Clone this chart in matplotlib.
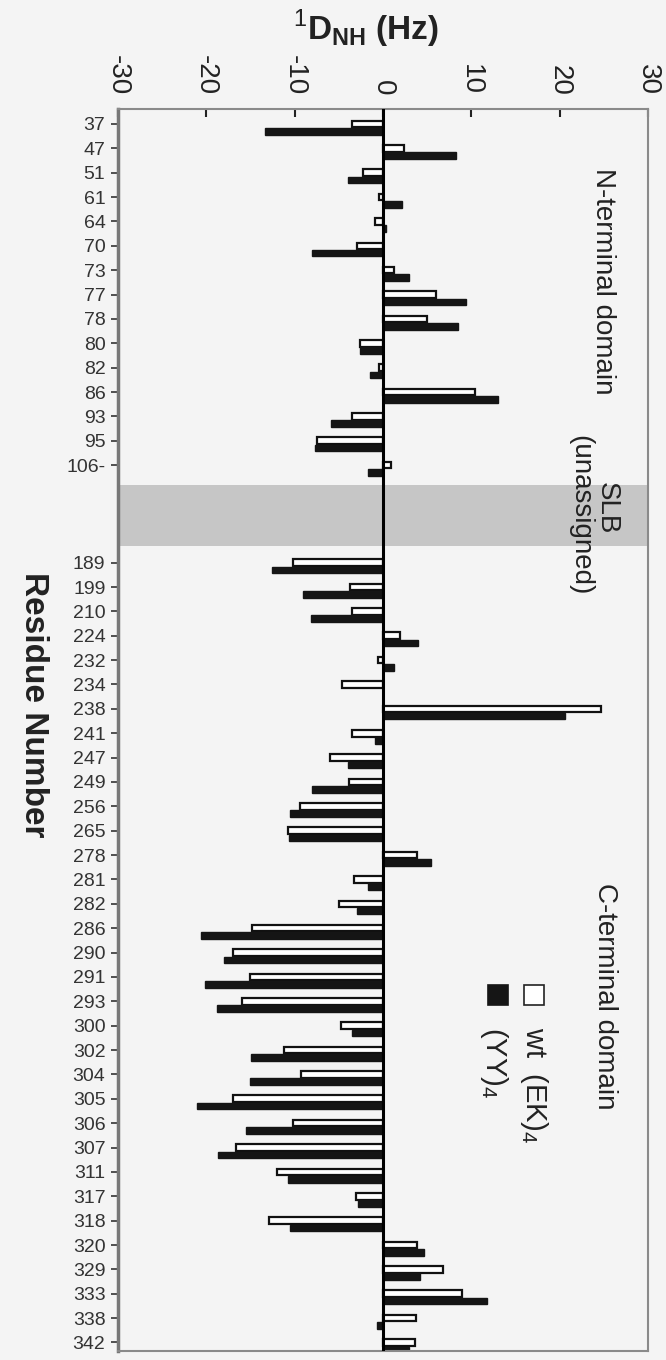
"""
Residual dipolar couplings per residue, wt (EK)4 vs (YY)4.
Chart drawn rotated: values run across the top, residues down the side.
"""
import numpy as np
import matplotlib
matplotlib.use("Agg")
import matplotlib.pyplot as plt
from matplotlib.patches import Rectangle

plt.rcParams['font.family'] = ['Liberation Sans', 'DejaVu Sans']
plt.rcParams['mathtext.fontset'] = 'custom'
plt.rcParams['mathtext.rm'] = 'Liberation Sans'
plt.rcParams['mathtext.bf'] = 'Liberation Sans:bold'

BG = "#f4f4f4"

# N-terminal domain
n_residues = ["37", "47", "51", "61", "64", "70", "73", "77", "78", "80",
              "82", "86", "93", "95", "106-"]
n_wt = [-3.5, 2.4, -2.3, -0.4, -0.9, -2.9, 1.25, 5.95, 5.0, -2.6,
        -0.4, 10.4, -3.5, -7.5, 0.9]
n_yy = [-13.4, 8.3, -4.0, 2.1, 0.3, -8.0, 2.9, 9.35, 8.5, -2.6,
        -1.5, 13.0, -5.9, -7.7, -1.7]

# C-terminal domain
c_residues = ["189", "199", "210", "224", "232", "234", "238", "241", "247", "249",
              "256", "265", "278", "281", "282", "286", "290", "291", "293", "300",
              "302", "304", "305", "306", "307", "311", "317", "318", "320", "329",
              "333", "338", "342"]
c_wt = [-10.2, -3.7, -3.5, 1.9, -0.6, -4.6, 24.65, -3.5, -6.0, -3.85,
        -9.4, -10.7, 3.9, -3.25, -5.0, -14.8, -17.0, -15.0, -16.0, -4.75,
        -11.2, -9.3, -16.95, -10.2, -16.6, -12.0, -3.0, -12.9, 3.8, 6.8,
        8.9, 3.7, 3.6]
c_yy = [-12.6, -9.1, -8.1, 4.0, 1.3, 0.0, 20.65, -0.9, -3.9, -8.0,
        -10.5, -10.6, 5.4, -1.7, -2.9, -20.6, -18.0, -20.1, -18.8, -3.5,
        -14.9, -15.1, -21.0, -15.55, -18.65, -10.7, -2.8, -10.5, 4.7, 4.2,
        11.8, -0.65, 2.9]

GAP_SLOTS = 3  # unassigned SLB region between the two domains

x_ticks = [-30, -20, -10, 0, 10, 20, 30]


def main():
    residues = n_residues + c_residues
    wt = np.array(n_wt + c_wt)
    yy = np.array(n_yy + c_yy)
    pos = np.concatenate([np.arange(len(n_residues)),
                          np.arange(len(c_residues)) + len(n_residues) + GAP_SLOTS])

    fig = plt.figure(figsize=(6.66, 13.6), dpi=100, facecolor=BG)
    ax = fig.add_axes([0.177, 0.0066, 0.796, 0.913], facecolor=BG)

    # unassigned band
    band_lo = len(n_residues) - 0.2
    band_hi = len(n_residues) + GAP_SLOTS - 0.7
    ax.axhspan(band_lo, band_hi, color="#c6c6c6", lw=0, zorder=0)

    h = 0.27
    ax.barh(pos, wt, height=h, color="white", edgecolor="#111111", lw=1.6, zorder=2)
    ax.barh(pos + 0.3, yy, height=h, color="#151515", edgecolor="#151515", lw=1.0, zorder=2)
    ax.axvline(0, color="black", lw=2.2, zorder=3)

    ax.set_xlim(-30, 30)
    ax.set_ylim(pos[-1] + 0.35, -0.6)

    ax.xaxis.tick_top()
    ax.set_xticks(x_ticks)
    ax.set_xticklabels([str(t) for t in x_ticks], rotation=-90, fontsize=20, color="#222222")
    ax.tick_params(axis="x", direction="in", length=6, width=1.5, pad=10, colors="#222222")

    ax.set_yticks(pos)
    ax.set_yticklabels(residues, fontsize=14, color="#222222")
    ax.tick_params(axis="y", direction="out", length=5, width=1.2, pad=4, colors="#333333")

    for side in ["top", "right", "bottom"]:
        ax.spines[side].set_color("#8a8a8a")
        ax.spines[side].set_linewidth(1.5)
    ax.spines["left"].set_color("#777777")
    ax.spines["left"].set_linewidth(2.5)

    # domain annotations (rotated like the rest of the figure)
    ax.text(0.915, 0.9525, "N-terminal domain", rotation=-90, transform=ax.transAxes,
            ha="center", va="top", fontsize=20, color="#222222")
    band_mid = (band_lo + band_hi) / 2
    ax.text(25.3, band_mid - 0.3, "SLB", rotation=-90,
            ha="center", va="center", fontsize=20, color="#222222")
    ax.text(22.3, band_mid, "(unassigned)", rotation=-90,
            ha="center", va="center", fontsize=20, color="#222222")
    ax.text(0.919, 0.377, "C-terminal domain", rotation=-90, transform=ax.transAxes,
            ha="center", va="top", fontsize=20, color="#222222")

    # legend, drawn by hand since it is rotated too
    ax.add_patch(Rectangle((0.766, 0.279), 0.038, 0.016, transform=ax.transAxes,
                           facecolor="white", edgecolor="#222222", lw=1.2, zorder=4))
    ax.add_patch(Rectangle((0.698, 0.279), 0.038, 0.016, transform=ax.transAxes,
                           facecolor="#151515", edgecolor="#151515", lw=1.2, zorder=4))
    ax.text(0.785, 0.261, r"wt  (EK)$_4$", rotation=-90, transform=ax.transAxes,
            ha="center", va="top", fontsize=21, color="#222222")
    ax.text(0.709, 0.261, r"(YY)$_4$", rotation=-90, transform=ax.transAxes,
            ha="center", va="top", fontsize=21, color="#222222")

    fig.text(0.55, 0.979, r"$^{1}\mathbf{D}_{\mathbf{NH}}$ (Hz)", ha="center", va="center",
             fontsize=24, fontweight="bold", color="#222222")
    fig.text(0.05, 0.482, "Residue Number", rotation=-90, ha="center", va="center",
             fontsize=24, fontweight="bold", color="#222222")

    fig.savefig("out.png", dpi=100, facecolor=BG)


if __name__ == '__main__':
    main()
